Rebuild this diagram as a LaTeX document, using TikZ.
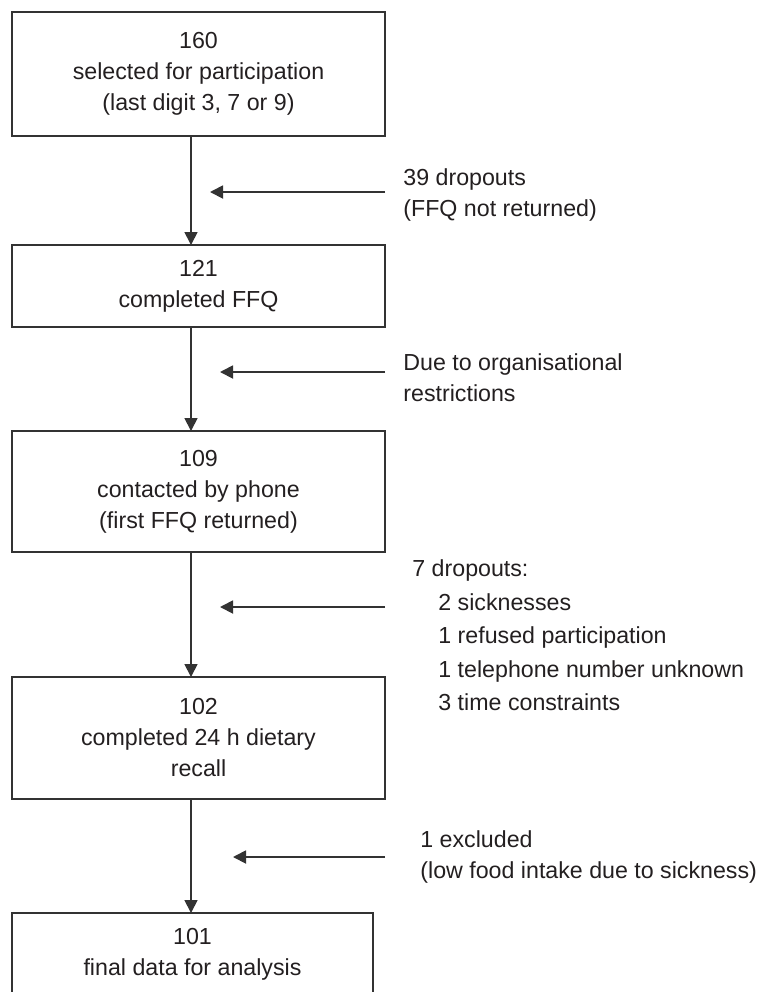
\documentclass[tikz,border=0pt]{standalone}
\usepackage{fontspec}
\setmainfont{Liberation Sans}
\usetikzlibrary{arrows.meta}
\definecolor{linegray}{HTML}{333333}
\definecolor{inkgray}{HTML}{231F20}

\begin{document}
\begin{tikzpicture}[x=0.5pt,y=-0.5pt,text=inkgray,
  box/.style = {rectangle,draw=linegray,line width=0.8pt,minimum width=186.5pt,align=center,inner sep=0pt,outer sep=0mm,font=\fontsize{11.6}{15.5}\selectfont},
  note/.style = {anchor=west,align=left,inner sep=0pt,font=\fontsize{11.6}{15.5}\selectfont},
  flow/.style = {draw=linegray,line width=0.9pt,-{Triangle[length=6.5pt,width=6.5pt]}}]
\useasboundingbox (0,0) rectangle (761,992);
\clip (0,0) rectangle (761,992);
\node[box,minimum height=62pt]   (sel)    at (198.5,74)  {160\\selected for participation\\(last digit 3, 7 or 9)};
\node[box,minimum height=41pt]   (ffq)    at (198.5,286) {121\\completed FFQ};
\node[box,minimum height=60.5pt] (phone)  at (198.5,491.5) {109\\contacted by phone\\(first FFQ returned)};
\node[box,minimum height=61pt]   (recall) at (198.5,738) {102\\completed 24 h dietary\\recall};
\node[box,minimum height=41pt,minimum width=180.5pt] (final) at (192.5,954) {101\\final data for analysis};
\coordinate (axis) at (191,0);
\foreach \a/\b in {sel/ffq, ffq/phone, phone/recall, recall/final}
    \draw[flow] (\a.south -| axis) -- (\b.north -| axis);
\coordinate (tip1) at (210,192);
\coordinate (tip2) at (220,372);
\coordinate (tip3) at (220,607);
\coordinate (tip4) at (233,857);
\draw[flow] (tip1 -| sel.east) -- (tip1);
\draw[flow] (tip2 -| sel.east) -- (tip2);
\draw[flow] (tip3 -| sel.east) -- (tip3);
\draw[flow] (tip4 -| sel.east) -- (tip4);
\node[note] (drop1) at (403,194.5) {39 dropouts\\(FFQ not returned)};
\node[note] (org)   at (403,377.5) {Due to organisational\\restrictions};
\node[note,font=\fontsize{11.6}{16.75}\selectfont] (drop2) at (412,635.5) {7 dropouts:\\\hspace*{13pt}2 sicknesses\\\hspace*{13pt}1 refused participation\\\hspace*{13pt}1 telephone number unknown\\\hspace*{13pt}3 time constraints};
\node[note] (excl)  at (420,857) {1 excluded\\(low food intake due to sickness)};
\end{tikzpicture}
\end{document}
